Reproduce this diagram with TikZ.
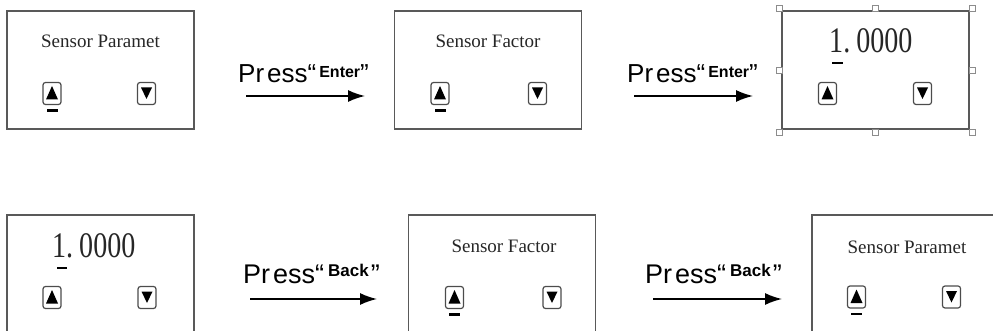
\documentclass[tikz,border=0pt]{standalone}
\usepackage{fontspec}
\usetikzlibrary{arrows.meta}
\newfontfamily\keyfont{Liberation Sans}
\newfontfamily\lcdfont{Liberation Serif}
\newfontfamily\digitfont[FakeStretch=0.78]{Liberation Serif}
\tikzset{
  screen/.style={draw=black!65, line width=1.2pt, minimum width=187pt, minimum height=118pt, inner sep=0},
  lcdtext/.style={font=\lcdfont\fontsize{19}{19}\selectfont, text=black!85, anchor=base, inner sep=0},
  lcddigits/.style={font=\digitfont\fontsize{36}{36}\selectfont, text=black!85, anchor=base west, inner sep=0},
  presstext/.style={font=\keyfont, anchor=base west, inner sep=0},
  pusharrow/.style={line width=1.6pt, -{Latex[length=17pt,width=12pt]}},
  keycap/.style={draw=black!70, line width=1.2pt, rounded corners=2.5pt, minimum width=18pt, minimum height=22pt, inner sep=0},
  upkey/.style={keycap, path picture={\fill[sharp corners] ([shift={(3pt,5pt)}]path picture bounding box.south west) -- ([shift={(-3pt,5pt)}]path picture bounding box.south east) -- ([yshift=-3.5pt]path picture bounding box.north) -- cycle;}},
  downkey/.style={keycap, path picture={\fill[sharp corners] ([shift={(3.5pt,-5pt)}]path picture bounding box.north west) -- ([shift={(-3.5pt,-5pt)}]path picture bounding box.north east) -- ([yshift=5.5pt]path picture bounding box.south) -- cycle;}},
  handle/.style={draw=black!45, fill=white, line width=0.6pt, minimum size=6pt, inner sep=0}
}
\begin{document}
\begin{tikzpicture}[x=1pt, y=-1pt]
  \path[use as bounding box, clip] (0,0) rectangle (993,331);
  % first row
  \node[screen] (par1) at (100.5,70) {};
  \node[lcdtext] (par1txt) at (100.5,48) {Sensor Paramet};
  \node[upkey] (par1up) at (52,93.5) {};
  \node[downkey] (par1dn) at (146.5,93.5) {};
  \fill ([shift={(-5.5pt,-4pt)}]par1up.south) rectangle ([shift={(5.5pt,-6.5pt)}]par1up.south);
  \node[screen] (fac1) at (488,70) {};
  \node[lcdtext] (fac1txt) at (488,48) {Sensor Factor};
  \node[upkey] (fac1up) at (440,93.5) {};
  \node[downkey] (fac1dn) at (537.5,93.5) {};
  \fill ([shift={(-5.5pt,-4pt)}]fac1up.south) rectangle ([shift={(5.5pt,-6.5pt)}]fac1up.south);
  \node[screen, outer sep=3pt] (val1) at (875.5,70) {};
  \node[lcddigits] (val1txt) at (829,53) {1.\kern6pt 0000};
  \fill (832,62) rectangle (843,64.5);
  \node[upkey] (val1up) at (827.5,93.5) {};
  \node[downkey] (val1dn) at (922.5,93.5) {};
  \foreach \a [count=\n] in {north west,north,north east,east,south east,south,south west,west}
    \node[handle] (hdl\n) at (val1.\a) {};
  \node[presstext] (go1) at (238,83) {\fontsize{26}{26}\selectfont Pr\kern3pt ess“\kern3pt\raisebox{5pt}{\bfseries\fontsize{16}{16}\selectfont Enter}”};
  \coordinate (go1s) at (246,96);
  \coordinate (go1e) at (365,96);
  \draw[pusharrow] (go1s) -- (go1e);
  \node[presstext] (go2) at (627,83) {\fontsize{26}{26}\selectfont Pr\kern3pt ess“\kern3pt\raisebox{5pt}{\bfseries\fontsize{16}{16}\selectfont Enter}”};
  \coordinate (go2s) at (634,96);
  \coordinate (go2e) at (753,96);
  \draw[pusharrow] (go2s) -- (go2e);
  % second row
  \node[screen] (val2) at (100.5,274) {};
  \node[lcddigits] (val2txt) at (52,257) {1.\kern6pt 0000};
  \fill (57,266.5) rectangle (67,269);
  \node[upkey] (val2up) at (52,297.5) {};
  \node[downkey] (val2dn) at (147,297.5) {};
  \node[screen] (fac2) at (502,274) {};
  \node[lcdtext] (fac2txt) at (504,252.5) {Sensor Factor};
  \node[upkey] (fac2up) at (454.5,297.5) {};
  \node[downkey] (fac2dn) at (552,297.5) {};
  \fill ([shift={(-5.5pt,-4pt)}]fac2up.south) rectangle ([shift={(5.5pt,-6.5pt)}]fac2up.south);
  \node[screen] (par2) at (905.5,274) {};
  \node[lcdtext] (par2txt) at (907,253) {Sensor Paramet};
  \node[upkey] (par2up) at (856.5,297) {};
  \node[downkey] (par2dn) at (951.5,297) {};
  \fill ([shift={(-5.5pt,-4pt)}]par2up.south) rectangle ([shift={(5.5pt,-6.5pt)}]par2up.south);
  \node[presstext] (bk1) at (243,283) {\fontsize{27}{27}\selectfont Pr\kern3pt ess“\kern4pt\raisebox{6pt}{\bfseries\fontsize{17}{17}\selectfont Back}\kern2pt”};
  \coordinate (bk1s) at (250,299);
  \coordinate (bk1e) at (377,299);
  \draw[pusharrow] (bk1s) -- (bk1e);
  \node[presstext] (bk2) at (645,283) {\fontsize{27}{27}\selectfont Pr\kern3pt ess“\kern4pt\raisebox{6pt}{\bfseries\fontsize{17}{17}\selectfont Back}\kern2pt”};
  \coordinate (bk2s) at (653,299);
  \coordinate (bk2e) at (782,299);
  \draw[pusharrow] (bk2s) -- (bk2e);
\end{tikzpicture}
\end{document}
